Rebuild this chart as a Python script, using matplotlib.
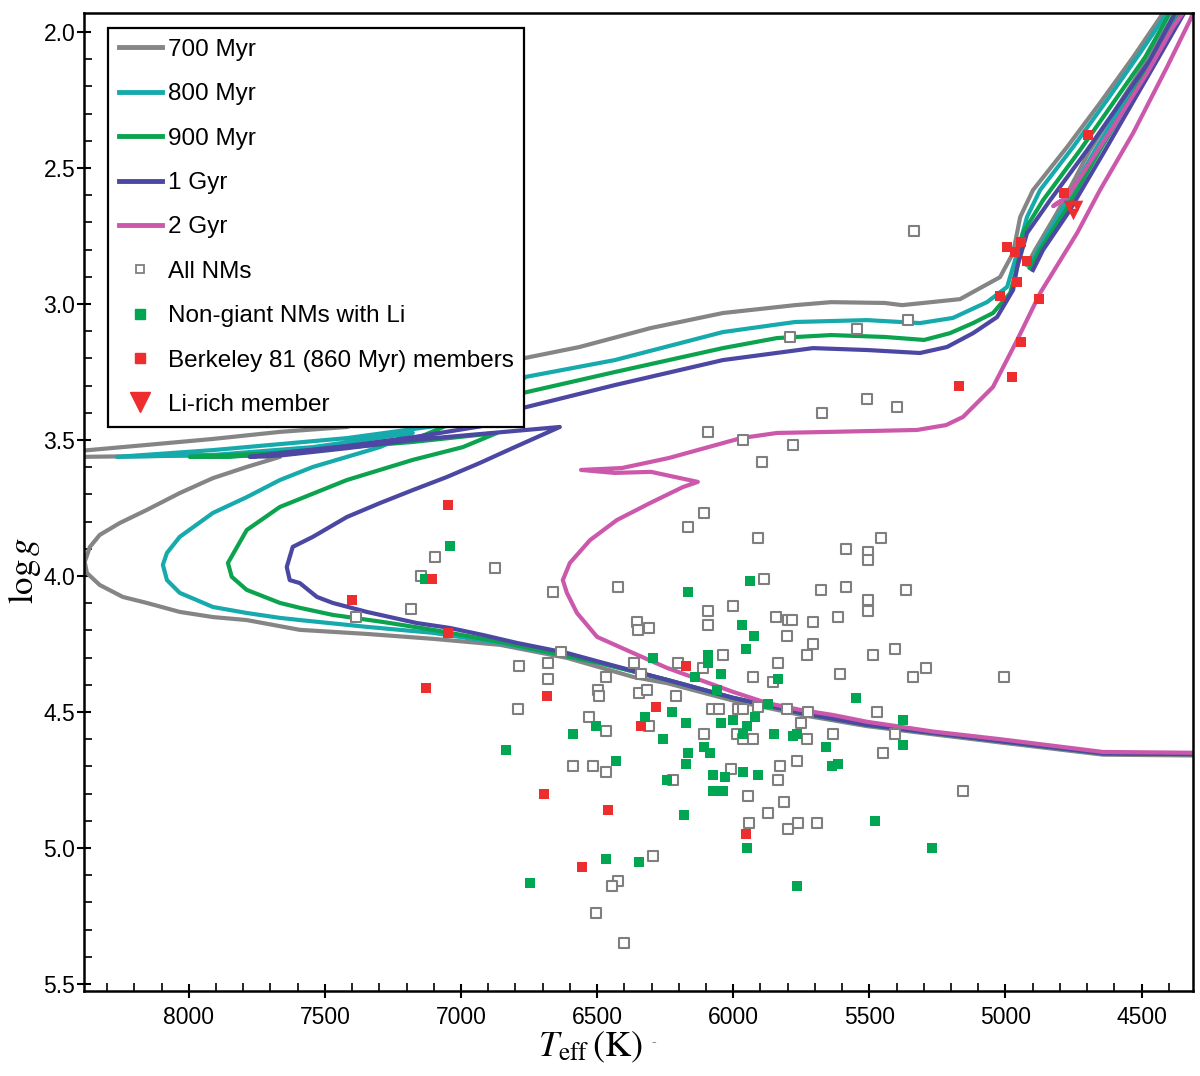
"""HR-diagram style plot: isochrones and stars in the Teff-logg plane (Berkeley 81 field)."""

import matplotlib

matplotlib.use("Agg")
import matplotlib.pyplot as plt
from matplotlib.lines import Line2D
from matplotlib.ticker import MultipleLocator, FormatStrFormatter

plt.rcParams["font.family"] = ["Liberation Sans", "DejaVu Sans"]
plt.rcParams["mathtext.fontset"] = "stix"

# ---- isochrones (Teff [K], logg) ----
ISO_700_T = [4300, 4642, 5020, 5266, 5509, 5755, 6001, 6243, 6368, 6611, 6857, 7103, 7346, 7592,
             7787, 7911, 8033, 8154, 8242, 8327, 8374, 8382, 8363, 8327, 8253, 8154, 8033, 7911,
             7787, 7665, 7911, 8154, 8400, 8560, 8600, 8560, 8400, 8154, 7911, 7665, 7419, 7100,
             6763, 6565, 6302, 6038, 5773, 5641, 5443, 5380, 5167, 5020, 4972, 4946, 4899, 4774,
             4653, 4531, 4421, 4390, 4360, 4377, 4480, 4690, 4811, 4891, 4921]
ISO_700_G = [4.660, 4.657, 4.612, 4.582, 4.552, 4.510, 4.458, 4.394, 4.371, 4.301, 4.253, 4.231,
             4.213, 4.198, 4.162, 4.151, 4.132, 4.099, 4.077, 4.033, 3.989, 3.948, 3.893, 3.849,
             3.805, 3.757, 3.695, 3.640, 3.599, 3.562, 3.555, 3.559, 3.562, 3.565, 3.555, 3.545,
             3.540, 3.518, 3.496, 3.470, 3.452, 3.330, 3.198, 3.158, 3.088, 3.033, 3.004, 2.993,
             2.996, 3.004, 2.982, 2.901, 2.812, 2.680, 2.581, 2.423, 2.261, 2.092, 1.930, 1.85,
             1.85, 1.930, 2.103, 2.434, 2.665, 2.801, 2.857]

ISO_800_T = [4300, 4642, 5020, 5266, 5509, 5755, 6001, 6243, 6490, 6857, 7103, 7346, 7592, 7665,
             7787, 7911, 8033, 8080, 8095, 8080, 8033, 7911, 7787, 7665, 7544, 7419, 7298, 7177,
             7544, 7911, 8264, 7911, 7419, 6930, 6763, 6435, 6038, 5773, 5509, 5314, 5193, 5068,
             4994, 4957, 4921, 4873, 4752, 4627, 4506, 4407, 4390, 4350, 4366, 4469, 4671, 4800,
             4880, 4910]
ISO_800_G = [4.655, 4.652, 4.607, 4.577, 4.547, 4.503, 4.448, 4.382, 4.320, 4.246, 4.209, 4.187,
             4.162, 4.154, 4.136, 4.114, 4.062, 4.015, 3.959, 3.915, 3.856, 3.768, 3.710, 3.647,
             3.599, 3.562, 3.526, 3.474, 3.526, 3.555, 3.562, 3.537, 3.493, 3.426, 3.268, 3.206,
             3.103, 3.066, 3.059, 3.070, 3.051, 2.993, 2.937, 2.812, 2.680, 2.581, 2.423, 2.250,
             2.077, 1.930, 1.85, 1.85, 1.930, 2.103, 2.434, 2.665, 2.801, 2.857]

ISO_900_T = [4300, 4642, 5020, 5266, 5509, 5755, 6001, 6243, 6490, 6857, 7103, 7287, 7471, 7592,
             7665, 7787, 7842, 7856, 7787, 7665, 7419, 7177, 6993, 6868, 7177, 7544, 7849, 7996,
             7592, 7151, 6773, 6435, 6038, 5839, 5641, 5443, 5299, 5204, 5119, 5046, 4983, 4957,
             4936, 4862, 4726, 4605, 4487, 4396, 4380, 4340, 4355, 4458, 4653, 4785, 4873, 4910]
ISO_900_G = [4.655, 4.652, 4.607, 4.577, 4.547, 4.503, 4.448, 4.382, 4.320, 4.242, 4.198, 4.169,
             4.143, 4.117, 4.099, 4.051, 4.003, 3.952, 3.831, 3.746, 3.647, 3.573, 3.526, 3.474,
             3.507, 3.537, 3.562, 3.562, 3.544, 3.489, 3.327, 3.250, 3.162, 3.125, 3.114, 3.121,
             3.132, 3.107, 3.070, 3.033, 2.960, 2.864, 2.739, 2.618, 2.434, 2.261, 2.092, 1.930,
             1.85, 1.85, 1.930, 2.103, 2.434, 2.665, 2.801, 2.868]

ISO_1G_T = [4300, 4642, 5020, 5266, 5509, 5755, 6001, 6243, 6490, 6611, 6795, 6919, 7041, 7162,
            7346, 7471, 7529, 7592, 7629, 7640, 7618, 7544, 7419, 7298, 7177, 7052, 6930, 6809,
            6637, 6930, 7177, 7419, 7665, 7776, 7665, 7419, 7177, 6930, 6809, 6773, 6435, 6038,
            5707, 5509, 5314, 5215, 5119, 5031, 4972, 4957, 4921, 4836, 4700, 4579, 4469, 4377,
            4360, 4330, 4344, 4443, 4634, 4770, 4862, 4899]
ISO_1G_G = [4.655, 4.652, 4.607, 4.577, 4.547, 4.503, 4.448, 4.382, 4.316, 4.283, 4.246, 4.217,
            4.191, 4.173, 4.132, 4.099, 4.077, 4.026, 4.015, 3.967, 3.893, 3.856, 3.783, 3.732,
            3.684, 3.636, 3.584, 3.529, 3.452, 3.478, 3.500, 3.530, 3.557, 3.562, 3.548, 3.522,
            3.490, 3.450, 3.415, 3.382, 3.298, 3.206, 3.162, 3.169, 3.180, 3.158, 3.107, 3.048,
            2.948, 2.864, 2.739, 2.618, 2.434, 2.261, 2.103, 1.930, 1.85, 1.85, 1.930, 2.103,
            2.434, 2.665, 2.801, 2.875]

ISO_2G_T = [4300, 4642, 5020, 5266, 5509, 5634, 5755, 5876, 6001, 6122, 6243, 6368, 6500, 6574,
            6611, 6626, 6600, 6526, 6427, 6306, 6185, 6130, 6302, 6435, 6559, 6409, 6236, 5972,
            5839, 5641, 5325, 5218, 5156, 5046, 4957, 4873, 4737, 4653, 4531, 4407, 4322, 4290,
            4310, 4333, 4385, 4480, 4605, 4715, 4774, 4811, 4825, 4800]
ISO_2G_G = [4.650, 4.647, 4.600, 4.572, 4.536, 4.511, 4.492, 4.467, 4.426, 4.382, 4.338, 4.283,
            4.224, 4.136, 4.062, 4.015, 3.952, 3.868, 3.794, 3.732, 3.673, 3.654, 3.617, 3.621,
            3.610, 3.603, 3.566, 3.493, 3.474, 3.470, 3.463, 3.445, 3.415, 3.305, 3.132, 2.960,
            2.739, 2.581, 2.371, 2.129, 1.956, 1.88, 1.85, 1.908, 1.982, 2.151, 2.349, 2.518,
            2.607, 2.629, 2.640, 2.625]

# ---- stars ----
NM_T = [6166, 7096, 6875, 7147, 6662, 6424, 7184, 7386, 6354, 6350, 6310, 6633, 6787, 6681,
        6681, 6468, 6365, 6339, 6203, 6497, 6493, 6346, 6317, 6210, 6791, 6530, 6468, 6310,
        6589, 6515, 6468, 6221, 6295, 6424, 6446, 6504, 6401, 6108, 5909, 5586, 5457, 5505,
        5505, 5887, 5678, 5586, 5365, 6093, 6001, 6093, 5505, 5505, 5843, 5799, 5784, 5707,
        5615, 5803, 5707, 5729, 5487, 5406, 6038, 5836, 5608, 5340, 5292, 6111, 5927, 5854,
        6078, 6052, 5983, 5964, 5909, 5803, 5725, 5472, 5751, 6108, 5986, 5964, 5927, 5729,
        5634, 5406, 5450, 5766, 5828, 6008, 5836, 5946, 5814, 5872, 5942, 5762, 5799, 5692,
        5156, 5005, 5336, 5358, 5545, 5509, 5398, 5674, 6093, 5964, 5780, 5894, 5792]
NM_G = [3.82, 3.93, 3.97, 4.00, 4.06, 4.04, 4.12, 4.15, 4.17, 4.20, 4.19, 4.28, 4.33, 4.32,
        4.38, 4.37, 4.32, 4.36, 4.32, 4.42, 4.44, 4.43, 4.42, 4.44, 4.49, 4.52, 4.57, 4.55,
        4.70, 4.70, 4.72, 4.75, 5.03, 5.12, 5.14, 5.24, 5.35, 3.77, 3.86, 3.90, 3.86, 3.91,
        3.94, 4.01, 4.05, 4.04, 4.05, 4.13, 4.11, 4.18, 4.09, 4.13, 4.15, 4.16, 4.16, 4.17,
        4.15, 4.22, 4.25, 4.29, 4.29, 4.27, 4.29, 4.32, 4.36, 4.37, 4.34, 4.34, 4.37, 4.39,
        4.49, 4.49, 4.49, 4.49, 4.48, 4.49, 4.50, 4.50, 4.54, 4.58, 4.58, 4.60, 4.60, 4.60,
        4.58, 4.58, 4.65, 4.68, 4.70, 4.71, 4.75, 4.81, 4.83, 4.87, 4.91, 4.91, 4.93, 4.91,
        4.79, 4.37, 2.73, 3.06, 3.09, 3.35, 3.38, 3.40, 3.47, 3.50, 3.52, 3.58, 3.12]

LI_T = [7041, 7132, 6295, 6141, 6166, 6324, 6225, 6174, 6258, 6504, 6589, 6835, 6431, 6166,
        6174, 6243, 6181, 6468, 6346, 6747, 5938, 5968, 5924, 5953, 6093, 6093, 6045, 5836,
        6060, 5872, 5549, 5376, 5376, 6045, 6001, 5950, 5920, 5964, 5850, 5780, 5766, 6108,
        6085, 5659, 5637, 5615, 6074, 6030, 5964, 5909, 6074, 6038, 5950, 5479, 5270, 5766]
LI_G = [3.89, 4.01, 4.30, 4.37, 4.06, 4.52, 4.50, 4.54, 4.60, 4.55, 4.58, 4.64, 4.68, 4.65,
        4.69, 4.75, 4.88, 5.04, 5.05, 5.13, 4.02, 4.18, 4.22, 4.27, 4.29, 4.32, 4.36, 4.38,
        4.42, 4.47, 4.45, 4.53, 4.62, 4.54, 4.53, 4.55, 4.52, 4.58, 4.58, 4.59, 4.58, 4.63,
        4.65, 4.63, 4.70, 4.69, 4.73, 4.74, 4.72, 4.73, 4.79, 4.79, 5.00, 4.90, 5.00, 5.14]

MEM_T = [7048, 7107, 7401, 7048, 7129, 6684, 6174, 6284, 6339, 6695, 6460, 6556, 5953,
         4697, 4785, 4994, 4965, 4943, 4921, 4957, 5020, 4877, 4943, 4976, 5171]
MEM_G = [3.74, 4.01, 4.09, 4.21, 4.41, 4.44, 4.33, 4.48, 4.55, 4.80, 4.86, 5.07, 4.95,
         2.38, 2.59, 2.79, 2.81, 2.77, 2.84, 2.92, 2.97, 2.98, 3.14, 3.27, 3.30]

LIRICH_T = [4768, 4738, 4752]
LIRICH_G = [2.640, 2.640, 2.668]

ISOCHRONES = [
    ("700 Myr", ISO_700_T, ISO_700_G, "#858585"),
    ("800 Myr", ISO_800_T, ISO_800_G, "#17aaad"),
    ("900 Myr", ISO_900_T, ISO_900_G, "#0ba34e"),
    ("1 Gyr", ISO_1G_T, ISO_1G_G, "#4b47a3"),
    ("2 Gyr", ISO_2G_T, ISO_2G_G, "#cc58ab"),
]

C_NM = "#7f7f7f"
C_LI = "#00a651"
C_RED = "#ee2d2f"


def main() -> None:
    fig = plt.figure(figsize=(12, 10.76), dpi=100)
    ax = fig.add_axes([0.0697, 0.0790, 0.9243, 0.9086])

    for label, t, g, col in ISOCHRONES:
        ax.plot(t, g, color=col, lw=3.0, solid_joinstyle="round", zorder=2)

    ax.scatter(NM_T, NM_G, s=50, marker="s", facecolors="white", edgecolors=C_NM,
               linewidths=1.5, zorder=3)
    ax.scatter(LI_T, LI_G, s=55, marker="s", color=C_LI, linewidths=0, zorder=4)
    ax.scatter(MEM_T, MEM_G, s=55, marker="s", color=C_RED, linewidths=0, zorder=5)
    ax.scatter(LIRICH_T, LIRICH_G, s=70, marker="v", color=C_RED, linewidths=0, zorder=6)

    ax.set_xlim(8386, 4312)
    ax.set_ylim(5.526, 1.931)

    ax.xaxis.set_major_locator(MultipleLocator(500))
    ax.xaxis.set_minor_locator(MultipleLocator(100))
    ax.yaxis.set_major_locator(MultipleLocator(0.5))
    ax.yaxis.set_minor_locator(MultipleLocator(0.1))
    ax.yaxis.set_major_formatter(FormatStrFormatter("%.1f"))

    ax.tick_params(which="major", direction="inout", length=10, width=1.5,
                   labelsize=16.5, top=False, right=False)
    ax.tick_params(which="minor", direction="in", length=6, width=1.2,
                   top=False, right=False)
    ax.tick_params(axis="x", which="major", pad=6)
    ax.tick_params(axis="y", which="major", pad=1)
    for sp in ax.spines.values():
        sp.set_linewidth(1.8)

    ax.set_ylabel(r"$\log g$", fontsize=25)
    ax.yaxis.set_label_coords(-0.037, 0.43)
    ax.set_xlabel(r"$T_{\rm eff}\,(\rm K)$", fontsize=26)
    ax.xaxis.set_label_coords(0.457, -0.040)
    ax.text(0.515, -0.053, "--", transform=ax.transAxes, fontsize=6, color="#555555",
            ha="center", va="center")

    handles = [Line2D([], [], color=col, lw=3.5) for _, _, _, col in ISOCHRONES]
    handles += [
        Line2D([], [], ls="none", marker="s", ms=6, mfc="white", mec=C_NM, mew=1.3),
        Line2D([], [], ls="none", marker="s", ms=7.5, color=C_LI),
        Line2D([], [], ls="none", marker="s", ms=7.5, color=C_RED),
        Line2D([], [], ls="none", marker="v", ms=15, color=C_RED),
    ]
    labels = [lab for lab, _, _, _ in ISOCHRONES]
    labels += ["All NMs", "Non-giant NMs with Li", "Berkeley 81 (860 Myr) members",
               "Li-rich member"]
    leg = ax.legend(handles, labels, loc="upper left", bbox_to_anchor=(0.022, 0.985),
                    borderaxespad=0, fontsize=17.5, labelspacing=0.92, handlelength=1.75,
                    handletextpad=0.25, borderpad=0.45, fancybox=False, framealpha=1,
                    edgecolor="black")
    leg.get_frame().set_linewidth(1.6)
    leg.set_zorder(10)

    fig.savefig("out.png", dpi=100)


if __name__ == "__main__":
    main()
